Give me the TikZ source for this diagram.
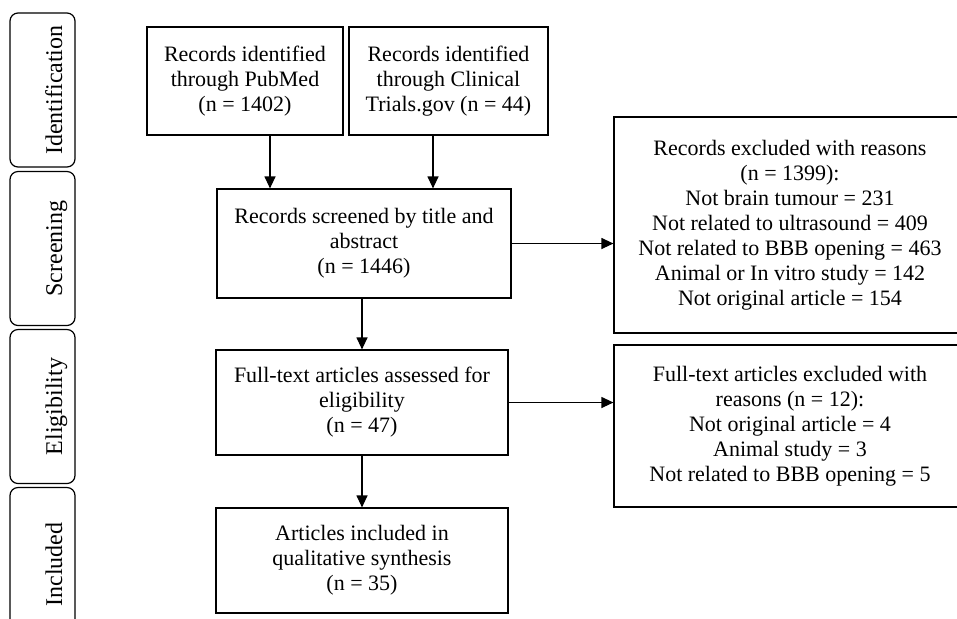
\documentclass[tikz,border=0pt]{standalone}
\usepackage{fontspec}
\setmainfont{Liberation Serif}
\usetikzlibrary{arrows.meta}
\begin{document}
\begin{tikzpicture}[
		x=0.5pt, y=-0.5pt,
		box/.style={draw, line width=0.6pt, align=center, inner sep=0pt,
				font=\fontsize{11}{12.5}\selectfont},
		stage/.style={draw, line width=0.6pt, rounded corners=4pt, rotate=90,
				minimum width=77pt, minimum height=32.5pt, inner sep=2pt,
				text height=22.5pt, text depth=3pt, font=\fontsize{12}{14}\selectfont},
		arrow/.style={-{Triangle[length=6pt,width=5.5pt]}, line width=0.6pt}
	]
	\path[use as bounding box, fill=white] (0,0) rectangle (957,618);
	% stages on the left
	\node[stage] (ident) at (42.5,90) {Identification};
	\node[stage] (screening) at (42.5,248.5) {Screening};
	\node[stage] (elig) at (42.5,406.5) {Eligibility};
	\node[stage] (included) at (42.5,564.5) {Included};
	% main column
	\node[box, minimum width=98pt, minimum height=54pt] (pubmed) at (245,81)
		{Records identified\\through PubMed\\(n = 1402)};
	\node[box, minimum width=99.5pt, minimum height=54pt] (clinical) at (448.5,81)
		{Records identified\\through Clinical\\Trials.gov (n = 44)};
	\node[box, minimum width=147pt, minimum height=54.5pt] (screen) at (364,243.5)
		{Records screened by title and\\abstract\\(n = 1446)};
	\node[box, minimum width=146pt, minimum height=52.5pt] (fulltext) at (362,402.5)
		{Full-text articles assessed for\\eligibility\\(n = 47)};
	\node[box, minimum width=146pt, minimum height=52.5pt] (synth) at (362,560.5)
		{Articles included in\\qualitative synthesis\\(n = 35)};
	% exclusions
	\node[box, minimum width=176pt, minimum height=108pt] (exclrec) at (790,225)
		{Records excluded with reasons\\(n = 1399):\\Not brain tumour = 231\\
		Not related to ultrasound = 409\\Not related to BBB opening = 463\\
		Animal or In vitro study = 142\\Not original article = 154};
	\node[box, minimum width=176pt, minimum height=81pt] (excltext) at (790,426)
		{Full-text articles excluded with\\reasons (n = 12):\\Not original article = 4\\
		Animal study = 3\\Not related to BBB opening = 5};
	% arrows
	\draw[arrow] ([xshift=12.5pt]pubmed.south) -- ([xshift=12.5pt]pubmed.south |- screen.north);
	\draw[arrow] ([xshift=-7.75pt]clinical.south) -- ([xshift=-7.75pt]clinical.south |- screen.north);
	\draw[arrow] (screen.east) -- (screen.east -| exclrec.west);
	\draw[arrow] (fulltext.north |- screen.south) -- (fulltext.north);
	\draw[arrow] (fulltext.east) -- (fulltext.east -| excltext.west);
	\draw[arrow] (fulltext.south) -- (synth.north);
\end{tikzpicture}
\end{document}
